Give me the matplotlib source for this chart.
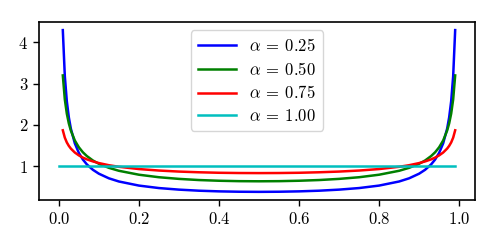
import matplotlib
matplotlib.use("Agg")
import matplotlib.pyplot as plt

plt.rcParams['mathtext.fontset'] = 'cm'
plt.rcParams['font.family'] = 'serif'
plt.rcParams['font.serif'] = ['cmr10']
plt.rcParams['axes.formatter.use_mathtext'] = True
plt.rcParams['font.size'] = 12
plt.rcParams['axes.linewidth'] = 1.2
plt.rcParams['xtick.major.size'] = 4.2
plt.rcParams['ytick.major.size'] = 4.2
plt.rcParams['xtick.major.width'] = 1.0
plt.rcParams['ytick.major.width'] = 1.0

x = [0.01, 0.015, 0.02, 0.025, 0.03, 0.04, 0.05, 0.06, 0.07, 0.085, 0.10, 0.125,
     0.15, 0.20, 0.25, 0.30, 0.35, 0.40, 0.45, 0.50, 0.55, 0.60, 0.65, 0.70, 0.75,
     0.80, 0.85, 0.875, 0.90, 0.915, 0.93, 0.94, 0.95, 0.96, 0.97, 0.975, 0.98,
     0.985, 0.99]

y_025 = [4.296, 3.182, 2.574, 2.186, 1.914, 1.555, 1.325, 1.165, 1.046, 0.916, 0.821, 0.709,
         0.632, 0.533, 0.473, 0.435, 0.409, 0.393, 0.384, 0.381, 0.384, 0.393, 0.409, 0.435, 0.473,
         0.533, 0.632, 0.709, 0.821, 0.916, 1.046, 1.165, 1.325, 1.555, 1.914, 2.186, 2.574,
         3.182, 4.296]

y_050 = [3.199, 2.619, 2.274, 2.039, 1.866, 1.624, 1.461, 1.340, 1.248, 1.141, 1.061, 0.963,
         0.891, 0.796, 0.735, 0.695, 0.667, 0.650, 0.640, 0.637, 0.640, 0.650, 0.667, 0.695, 0.735,
         0.796, 0.891, 0.963, 1.061, 1.141, 1.248, 1.340, 1.461, 1.624, 1.866, 2.039, 2.274,
         2.619, 3.199]

y_075 = [1.871, 1.693, 1.577, 1.494, 1.429, 1.333, 1.264, 1.211, 1.168, 1.118, 1.078, 1.026,
         0.988, 0.933, 0.897, 0.872, 0.855, 0.843, 0.837, 0.835, 0.837, 0.843, 0.855, 0.872, 0.897,
         0.933, 0.988, 1.026, 1.078, 1.118, 1.168, 1.211, 1.264, 1.333, 1.429, 1.494, 1.577,
         1.693, 1.871]

x_100 = [0.0, 0.99]
y_100 = [1.0, 1.0]

fig = plt.figure(figsize=(4.98, 2.49), dpi=100)
ax = fig.add_axes([0.0783, 0.197, 0.8755, 0.7146])
ax.plot(x, y_025, color='b', lw=1.8, label=r'$\alpha\:=\:0.25$')
ax.plot(x, y_050, color='g', lw=1.8, label=r'$\alpha\:=\:0.50$')
ax.plot(x, y_075, color='r', lw=1.8, label=r'$\alpha\:=\:0.75$')
ax.plot(x_100, y_100, color='c', lw=1.8, label=r'$\alpha\:=\:1.00$')
ax.set_xticks([0.0, 0.2, 0.4, 0.6, 0.8, 1.0])
ax.set_yticks([1, 2, 3, 4])
ax.legend(loc='upper center', handlelength=2.3, labelspacing=0.4)
fig.savefig('out.png', dpi=100)
